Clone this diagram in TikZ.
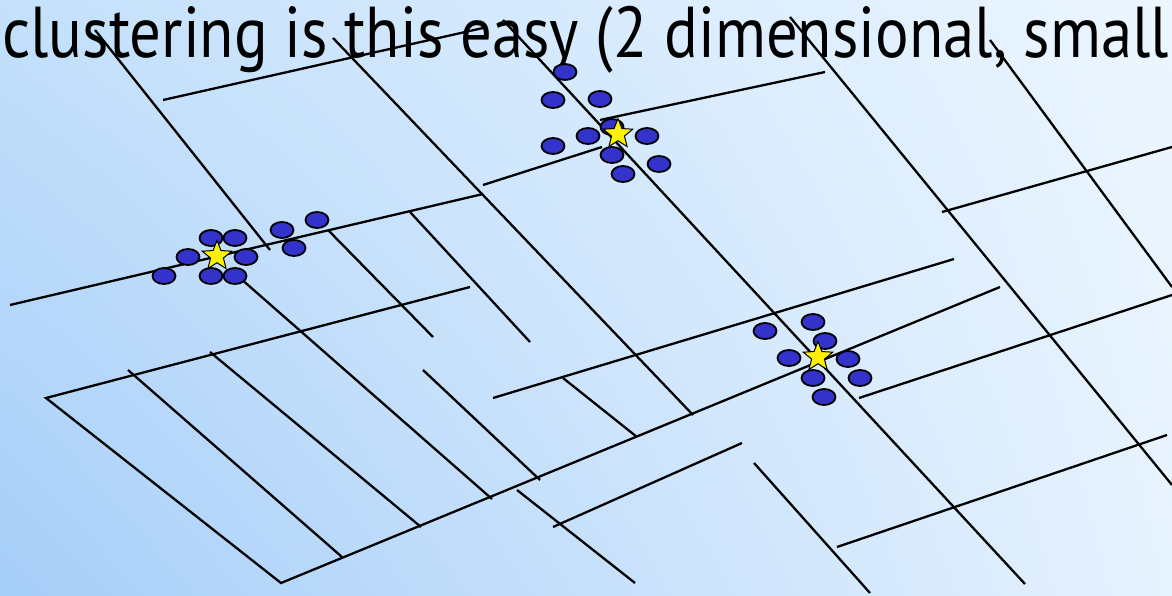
\documentclass[tikz,border=0pt]{standalone}
\usepackage{fontspec}
\setmainfont{PT Sans}
\usetikzlibrary{shapes.geometric,shadings}
\definecolor{dotblue}{RGB}{51,51,204}
\definecolor{bgul}{RGB}{196,224,251}
\definecolor{bgll}{RGB}{166,206,248}
\definecolor{bgur}{RGB}{236,246,255}
\definecolor{bglr}{RGB}{230,242,254}
\begin{document}
\begin{tikzpicture}[x=1pt, y=-1pt, line width=2.3pt,
  datapt/.style={draw, ellipse, fill=dotblue, line width=1.8pt, minimum width=23pt, minimum height=16pt, inner sep=0pt},
  centre/.style={draw, star, star points=5, star point ratio=2.3, fill=yellow, line width=1pt, minimum size=31pt, inner sep=0pt}]
\useasboundingbox (0,0) rectangle (1172,596);
\shade[upper left=bgul, upper right=bgur, lower left=bgll, lower right=bglr] (0,0) rectangle (1172,596);
\node[anchor=base west, inner sep=0pt, font=\fontsize{72}{80}\selectfont] (title) at (1,58)
  {\resizebox{1167pt}{\height}{clustering is this easy (2 dimensional, small}};
% roads
\draw (163,100) -- (483,28);
\draw (95,30) -- (270,250);
\draw (333,38) -- (693,415);
\draw (10,305) -- (483,194);
\draw (483,185) -- (602,147);
\draw (600,120) -- (825,72);
\draw (240,278) -- (492,499);
\draw (328,230) -- (433,337);
\draw (410,212) -- (530,342);
\draw (470,287) -- (46,398) -- (281,583) -- (1000,287);
\draw (128,370) -- (342,557);
\draw (210,352) -- (421,527);
\draw (423,370) -- (540,480);
\draw (517,490) -- (635,583);
\draw (553,527) -- (742,443);
\draw (754,463) -- (870,593);
\draw (837,547) -- (1167,435);
\draw (563,378) -- (637,437);
\draw (493,398) -- (954,259);
\draw (859,398) -- (1172,295);
\draw (503,20) -- (1025,584);
\draw (790,17) -- (1172,485);
\draw (990,40) -- (1172,287);
\draw (942,212) -- (1172,147);
% left cluster
\node[datapt] (l1) at (211,238) {};
\node[datapt] (l2) at (235,238) {};
\node[datapt] (l3) at (188,257) {};
\node[datapt] (l4) at (246,257) {};
\node[datapt] (l5) at (164,276) {};
\node[datapt] (l6) at (211,276) {};
\node[datapt] (l7) at (235,276) {};
\node[datapt] (l8) at (282,230) {};
\node[datapt] (l9) at (317,220) {};
\node[datapt] (l10) at (294,248) {};
% top cluster
\node[datapt] (t1) at (565,72) {};
\node[datapt] (t2) at (553,100) {};
\node[datapt] (t3) at (600,99) {};
\node[datapt] (t4) at (553,146) {};
\node[datapt] (t5) at (588,136) {};
\node[datapt] (t6) at (612,127) {};
\node[datapt] (t7) at (647,136) {};
\node[datapt] (t8) at (612,155) {};
\node[datapt] (t9) at (659,164) {};
\node[datapt] (t10) at (623,174) {};
% right cluster
\node[datapt] (r1) at (765,331) {};
\node[datapt] (r2) at (813,322) {};
\node[datapt] (r3) at (825,341) {};
\node[datapt] (r4) at (789,358) {};
\node[datapt] (r5) at (848,359) {};
\node[datapt] (r6) at (813,378) {};
\node[datapt] (r7) at (860,378) {};
\node[datapt] (r8) at (824,397) {};
% centres
\node[centre] (cl) at (217,256) {};
\node[centre] (ct) at (618,134) {};
\node[centre] (cr) at (818,357) {};
\end{tikzpicture}
\end{document}
